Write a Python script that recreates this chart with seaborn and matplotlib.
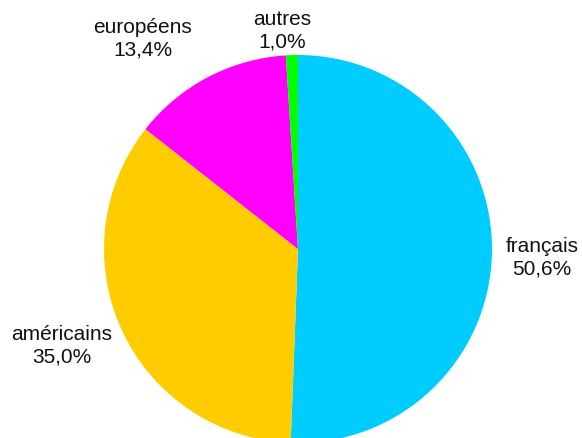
import matplotlib
matplotlib.use("Agg")
import matplotlib.pyplot as plt
import seaborn as sns

# Origine des visiteurs (part en %)
categories = ["français", "américains", "européens", "autres"]
parts = [50.6, 35.0, 13.4, 1.0]
couleurs = ["#00CCFF", "#FFCC00", "#FF00FF", "#00FF00"]

sns.set_theme(style="white")
plt.rcParams["font.family"] = ["Liberation Sans", "DejaVu Sans"]

W, H = 582, 438
fig = plt.figure(figsize=(W / 100, H / 100), dpi=100)
cx, cy, r = 298, 249, 194
ax = fig.add_axes([(cx - r) / W, (H - cy - r) / H, 2 * r / W, 2 * r / H])

ax.pie(parts, colors=couleurs, startangle=90, counterclock=False,
       radius=1.0, wedgeprops=dict(linewidth=0))
ax.set_xlim(-1, 1)
ax.set_ylim(-1, 1)
ax.set_aspect("equal")
ax.axis("off")

# Positions des étiquettes autour du disque (en pixels de la figure)
positions_px = [(542, 258), (62, 346), (143, 39), (282, 31)]
for nom, v, (px, py) in zip(categories, parts, positions_px):
    ax.text((px - cx) / r, (cy - py) / r, f"{nom}\n{v:.1f}%".replace(".", ","),
            ha="center", va="center", fontsize=15, color="#111111",
            linespacing=1.25, clip_on=False)

fig.savefig("out.png", dpi=100)
